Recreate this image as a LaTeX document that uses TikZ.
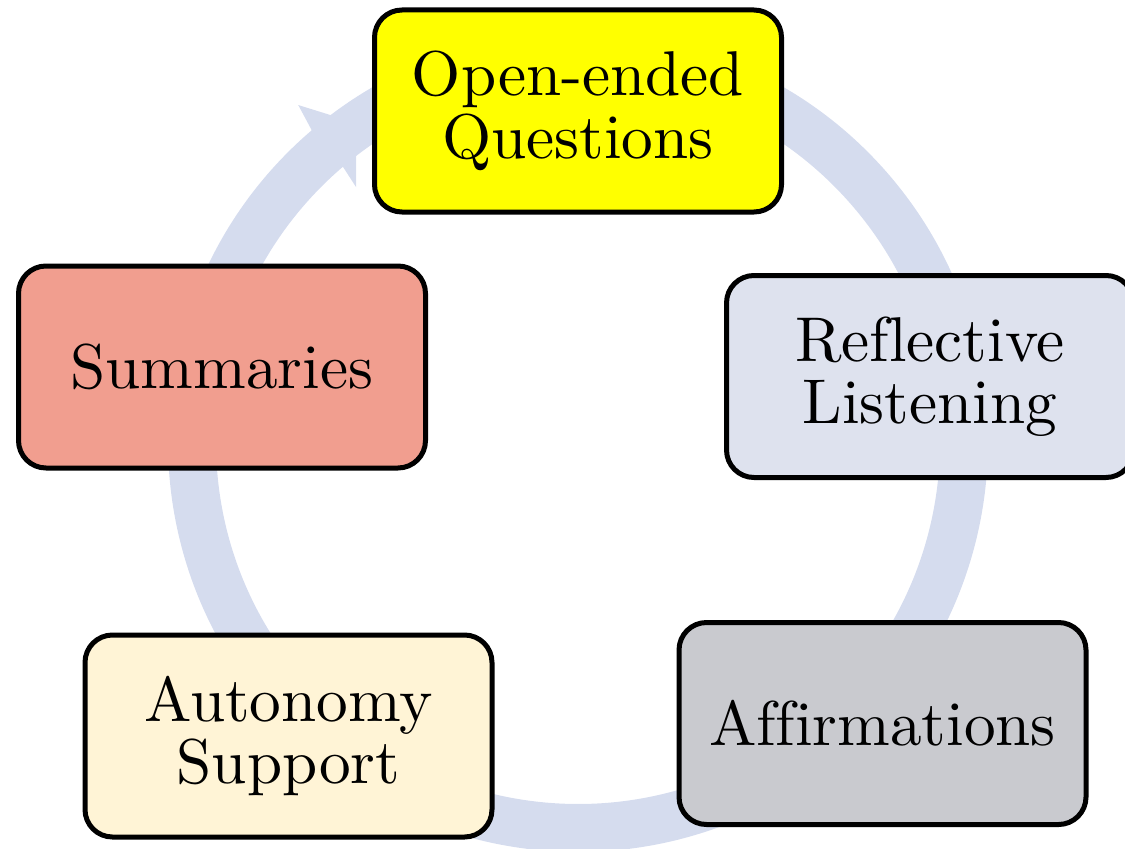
\documentclass[tikz,border=0pt]{standalone}
\usepackage{fontspec}
\setmainfont{lmroman10-regular.otf}[Ligatures=NoCommon]
\usetikzlibrary{calc}

\definecolor{ringblue}{RGB}{213,220,238}
\definecolor{openyellow}{RGB}{255,255,0}
\definecolor{reflectblue}{RGB}{222,226,238}
\definecolor{affirmgray}{RGB}{201,202,207}
\definecolor{autocream}{RGB}{255,244,214}
\definecolor{summsalmon}{RGB}{241,158,143}

\begin{document}
\begin{tikzpicture}[
    ring/.style={
        draw=ringblue,
        line width=0.96cm
    },
    box/.style={
        draw=black,
        line width=0.1cm,
        rounded corners=0.55cm,
        minimum width=8.14cm,
        minimum height=4.04cm,
        align=center,
        font=\fontsize{36}{35.5}\selectfont
    }
]

    \useasboundingbox (0,0) rectangle (22.5,16.96);

    % the cycle ring behind the boxes
    \coordinate (hub) at (11.56,8.12);
    \draw[ring] ($(hub)+(130.5:7.72)$)
        arc[start angle=130.5, end angle=-260, radius=7.72];
    \fill[ringblue] ($(hub)+(130.5:8.2)$) -- ($(hub)+(129.7:8.76)$)
        -- (7.12,14.5) -- (7.12,13.22) -- ($(hub)+(130.5:7.24)$) -- cycle;

    \foreach \name/\x/\y/\shade/\label in {
        open/11.56/14.74/openyellow/{Open-ended\\Questions},
        reflect/18.6/9.43/reflectblue/{Reflective\\Listening},
        affirm/17.65/2.49/affirmgray/{Affirmations},
        auto/5.77/2.24/autocream/{Autonomy\\Support},
        summ/4.44/9.62/summsalmon/{Summaries}%
    }{
        \node[box, fill=\shade] (\name) at (\x,\y) {\label};
    }

\end{tikzpicture}
\end{document}
